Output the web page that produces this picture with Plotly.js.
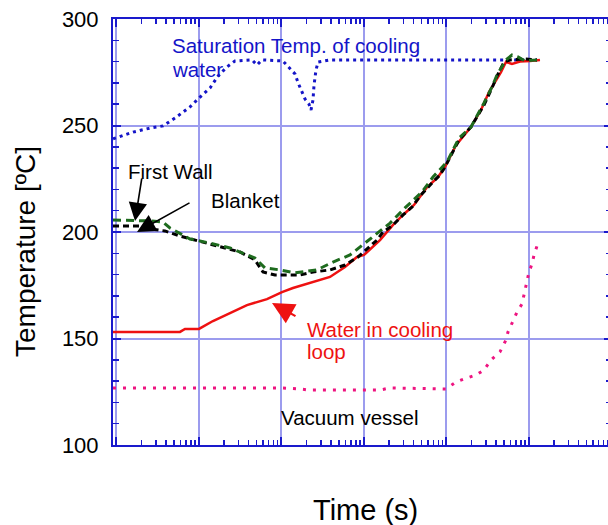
<!DOCTYPE html>
<html>
<head>
<meta charset="utf-8">
<script src="https://cdn.plot.ly/plotly-3.0.1.min.js"></script>
<style>
html,body{margin:0;padding:0;overflow:hidden;background:#fff;}
#chart{width:612px;height:525px;}
</style>
</head>
<body>
<div id="chart"></div>
<script>
// Saturation temperature of cooling water
var timeSat = [0.0091, 0.0159, 0.0255, 0.0366, 0.0512, 0.0778, 0.1, 0.136, 0.170, 0.2185, 0.273, 0.361, 0.44, 0.505, 0.58, 1.04, 1.27, 1.46, 1.59, 1.77, 1.93, 2.15, 2.28, 2.41, 2.48, 2.62, 2.77, 3.87, 15.6, 83, 445, 1250];
var tempSat = [243.7, 246.9, 248.8, 249.8, 253.5, 258.7, 262.9, 267.6, 273.2, 277.5, 280.3, 280.8, 280.8, 278.4, 280.8, 280.3, 276.5, 274.2, 270, 265.3, 262.4, 260.1, 257.3, 262, 269, 276, 279.8, 280.8, 280.8, 280.8, 280.8, 280.8];

// First Wall
var timeFW = [0.00908, 0.0255, 0.0366, 0.0445, 0.0778, 0.136, 0.2375, 0.477, 0.631, 0.959, 1.457, 2.69, 4.21, 6.76, 10.28, 20.7, 31.4, 50.5, 68.6, 101.4, 141.8, 198, 285, 356, 409.5, 526, 622, 735.6, 894, 1250];
var tempFW = [205.6, 205.2, 204.7, 201.9, 196.7, 194.8, 192.5, 187.8, 183.1, 182.2, 180.8, 182.2, 185.9, 189.2, 194.8, 204.2, 211.3, 218.8, 225.8, 232.9, 244.1, 249.3, 260.6, 268.1, 273.7, 280.8, 283.1, 282.2, 280.3, 280.8];

// Blanket
var timeBL = [0.00908, 0.0193, 0.0255, 0.0387, 0.0589, 0.1, 0.156, 0.314, 0.477, 0.597, 0.834, 1.675, 2.41, 3.87, 5.885, 8.46, 14.38, 17.0, 22.5, 29.7, 38.2, 47.7, 66.7, 83.4, 95.9, 141.8, 198, 285, 356, 409.5, 497.7, 588.5, 894, 1250];
var tempBL = [202.8, 202.8, 201.4, 200.5, 198.1, 195.8, 193.9, 190.6, 186.9, 181.2, 179.8, 179.8, 181.2, 182.2, 184.5, 188.3, 196.2, 200, 203.3, 208, 211.7, 216.9, 223, 226.8, 230.5, 243.2, 249.3, 259.6, 267.6, 273.2, 279.8, 280.8, 281.2, 280.8];

// Water in cooling loop
var timeWater = [0.00908, 0.0589, 0.0677, 0.1, 0.1478, 0.2583, 0.3818, 0.667, 1.014, 1.378, 2.215, 3.87, 5.885, 8.22, 10, 15.63, 22.5, 29.7, 40.4, 58.0, 78.9, 95.9, 130.3, 198, 262, 327.5, 457.7, 526, 622, 778, 1028, 1359];
var tempWater = [153.1, 153.1, 154.5, 154.5, 158.2, 162.4, 165.7, 168.5, 171.8, 173.7, 176.1, 178.9, 183.6, 188.3, 189.2, 196.2, 203.3, 208, 212.7, 221, 225.8, 230.5, 240.8, 249.3, 257.3, 265.7, 275.1, 279.8, 278.9, 280, 280.3, 280.8];

// Vacuum vessel
var timeVV = [0.00908, 1.014, 1.675, 2.154, 15.63, 20.7, 98.6, 130.3, 162.9, 228, 285.1, 346, 444.7, 526, 556, 639.6, 715.7, 822.6, 869.6, 920, 1000, 1087, 1150, 1285, 1359];
var tempVV = [126.8, 126.8, 126.3, 125.8, 125.8, 126.8, 126.3, 129.6, 131, 132.9, 135.2, 139.9, 143.7, 149.3, 153, 158.7, 162.4, 166.2, 170.9, 175.6, 181.2, 185, 189.2, 194.8, 195.8];

var yTicks = [100, 150, 200, 250, 300];
var yTickText = ['100', '150', '200', '250', '300'];

var FONT = 'Arial, "Liberation Sans", sans-serif';
var AXIS = '#1a1acc';
var GRID = '#9c9cee';

var traces = [
  {x: timeSat, y: tempSat, mode: 'lines', name: 'Saturation Temp. of cooling water',
   line: {color: '#1414c8', width: 3, dash: '3px,4px'}},
  {x: timeVV, y: tempVV, mode: 'lines', name: 'Vacuum vessel',
   line: {color: '#ee1480', width: 3, dash: '3px,7px'}},
  {x: timeWater, y: tempWater, mode: 'lines', name: 'Water in cooling loop',
   line: {color: '#ee1111', width: 2.5}},
  {x: timeBL, y: tempBL, mode: 'lines', name: 'Blanket',
   line: {color: '#000000', width: 3, dash: '6px,4px'}},
  {x: timeFW, y: tempFW, mode: 'lines', name: 'First Wall',
   line: {color: '#1e6b1e', width: 3, dash: '8px,5px'}}
];

var PW = 499, PH = 426, L = 113, T = 19;
function px(x){ return (x - L) / PW; }
function py(y){ return (T + PH - y) / PH; }

function label(text, x, y, color, size){
  return {text: text, xref: 'paper', yref: 'paper', x: px(x), y: py(y),
    xanchor: 'left', yanchor: 'middle', showarrow: false,
    font: {family: FONT, size: size || 20.5, color: color}};
}
function arrow(tipX, tipY, tailX, tailY, color, w, s){
  return {text: '', xref: 'paper', yref: 'paper', x: px(tipX), y: py(tipY),
    ax: tailX - tipX, ay: tailY - tipY, showarrow: true, arrowhead: 2,
    arrowwidth: w, arrowsize: s, arrowcolor: color, standoff: 0, startstandoff: 0};
}

var annotations = [
  label('Saturation Temp. of cooling', 170, 45, '#1414c8'),
  label('water', 170, 70, '#1414c8'),
  label('First Wall', 126, 172, '#000'),
  label('Blanket', 209, 200, '#000'),
  label('Water in cooling', 305, 329, '#ee1111'),
  label('loop', 305, 351, '#ee1111'),
  label('Vacuum vessel', 279, 417, '#000'),
  arrow(135, 221, 142, 177, '#000', 1.6, 2.3),
  arrow(137, 232, 191, 202, '#000', 1.6, 2.3),
  arrow(272, 303, 297, 317, '#ee1111', 2.2, 2),
  {text: 'Temperature [ºC]', xref: 'paper', yref: 'paper', x: px(25), y: py(252),
   xanchor: 'center', yanchor: 'middle', showarrow: false, textangle: -90,
   font: {family: FONT, size: 28, color: '#000'}},
  {text: 'Time (s)', xref: 'paper', yref: 'paper', x: px(365), y: py(510),
   xanchor: 'center', yanchor: 'middle', showarrow: false,
   font: {family: FONT, size: 29, color: '#000'}}
];

var layout = {
  width: 612, height: 525,
  margin: {l: L, r: 0, t: T, b: 80, pad: 0},
  paper_bgcolor: '#fff', plot_bgcolor: '#fff',
  showlegend: false,
  font: {family: FONT, color: '#000'},
  xaxis: {
    type: 'log', range: [-2.042, 4.006], dtick: 1,
    showgrid: true, gridcolor: GRID, gridwidth: 2,
    ticks: 'inside', ticklen: 8, tickwidth: 2, tickcolor: AXIS,
    showticklabels: false, showline: true, linecolor: AXIS, linewidth: 2,
    mirror: 'ticks', zeroline: false,
    minor: {ticks: 'inside', ticklen: 5, tickwidth: 1.5, tickcolor: AXIS, dtick: 'D1', showgrid: false}
  },
  yaxis: {
    range: [100, 300], tickmode: 'array', tickvals: yTicks, ticktext: yTickText,
    showgrid: true, gridcolor: GRID, gridwidth: 2,
    ticks: 'inside', ticklen: 8, tickwidth: 2, tickcolor: AXIS,
    tickfont: {family: FONT, size: 22, color: '#000'}, ticklabelstandoff: 8,
    showline: true, linecolor: AXIS, linewidth: 2, mirror: 'ticks', zeroline: false,
    minor: {ticks: 'inside', ticklen: 6, tickwidth: 1.5, tickcolor: AXIS, dtick: 10, showgrid: false}
  },
  annotations: annotations
};

Plotly.newPlot('chart', traces, layout, {displayModeBar: false, staticPlot: true});
</script>
</body>
</html>
